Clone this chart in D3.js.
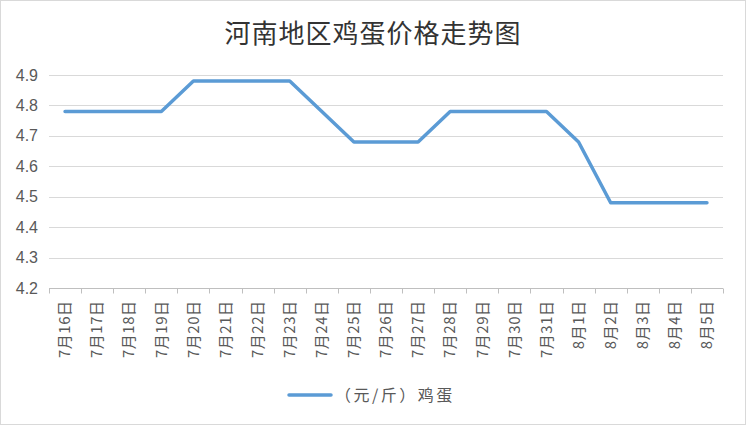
<!DOCTYPE html>
<html>
<head>
<meta charset="utf-8">
<script src="https://cdn.jsdelivr.net/npm/d3@7.9.0/dist/d3.min.js"></script>
<style>
  html, body { margin: 0; padding: 0; background: #fff; }
  svg { display: block; font-family: "Noto Sans CJK SC", "Noto Sans", sans-serif; }
</style>
</head>
<body>
<svg id="chart" width="746" height="425"></svg>
<script>
// ----- Data -----
const dates = ["7月16日", "7月17日", "7月18日", "7月19日", "7月20日", "7月21日", "7月22日",
  "7月23日", "7月24日", "7月25日", "7月26日", "7月27日", "7月28日", "7月29日",
  "7月30日", "7月31日", "8月1日", "8月2日", "8月3日", "8月4日", "8月5日"];
const prices = [4.78, 4.78, 4.78, 4.78, 4.88, 4.88, 4.88, 4.88, 4.78, 4.68, 4.68,
  4.68, 4.78, 4.78, 4.78, 4.78, 4.68, 4.48, 4.48, 4.48, 4.48];
const yTicks = [4.2, 4.3, 4.4, 4.5, 4.6, 4.7, 4.8, 4.9];
const seriesName = "（元/斤）鸡蛋";
const title = "河南地区鸡蛋价格走势图";

const W = 746, H = 425;
const margin = { top: 75, right: 23, bottom: 137, left: 49 };
const svg = d3.select("#chart");

// outer frame
svg.append("rect")
  .attr("x", 0.5).attr("y", 0.5)
  .attr("width", W - 1).attr("height", H - 1)
  .attr("fill", "#fff").attr("stroke", "#d9d9d9");

const x = d3.scaleBand()
  .domain(dates)
  .range([margin.left, W - margin.right]);

const y = d3.scaleLinear()
  .domain([4.2, 4.9])
  .range([H - margin.bottom, margin.top]);

// gridlines
svg.append("g")
  .selectAll("line")
  .data(yTicks.slice(1))
  .join("line")
  .attr("x1", margin.left).attr("x2", W - margin.right)
  .attr("y1", d => Math.round(y(d)) + 0.5).attr("y2", d => Math.round(y(d)) + 0.5)
  .attr("stroke", "#d9d9d9").attr("stroke-width", 1);

// y axis labels
svg.append("g")
  .selectAll("text")
  .data(yTicks)
  .join("text")
  .attr("x", 38)
  .attr("y", d => y(d))
  .attr("dy", "0.35em")
  .attr("text-anchor", "end")
  .attr("fill", "#595959")
  .attr("font-size", 16)
  .attr("font-family", "Liberation Sans, Arial, sans-serif")
  .text(d => d.toFixed(1));

// x axis
const xAxisY = Math.round(y(4.2)) + 0.5;
const xg = svg.append("g");
xg.append("line")
  .attr("x1", margin.left).attr("x2", W - margin.right)
  .attr("y1", xAxisY).attr("y2", xAxisY)
  .attr("stroke", "#bfbfbf");
xg.selectAll("line.tick")
  .data(dates.map(d => x(d)).concat([W - margin.right]))
  .join("line")
  .attr("class", "tick")
  .attr("x1", d => Math.round(d) + 0.5).attr("x2", d => Math.round(d) + 0.5)
  .attr("y1", xAxisY).attr("y2", xAxisY + 5)
  .attr("stroke", "#bfbfbf");

xg.selectAll("text")
  .data(dates)
  .join("text")
  .attr("transform", d => `translate(${x(d) + x.bandwidth() / 2},${xAxisY + 12}) rotate(-90)`)
  .attr("text-anchor", "end")
  .attr("dy", "0.35em")
  .attr("fill", "#595959")
  .attr("font-size", 15)
  .attr("letter-spacing", 0.5)
  .text(d => d);

// line
const line = d3.line()
  .x((d, i) => x(dates[i]) + x.bandwidth() / 2)
  .y(d => y(d));

svg.append("path")
  .datum(prices)
  .attr("d", line)
  .attr("fill", "none")
  .attr("stroke", "#5b9bd5")
  .attr("stroke-width", 3.5)
  .attr("stroke-linejoin", "round")
  .attr("stroke-linecap", "round");

// title
svg.append("text")
  .attr("x", W / 2).attr("y", 43)
  .attr("text-anchor", "middle")
  .attr("fill", "#333333")
  .attr("font-size", 26)
  .attr("letter-spacing", 1)
  .text(title);

// legend
const lg = svg.append("g").attr("transform", "translate(289,395)");
lg.append("line")
  .attr("x1", 0).attr("x2", 42)
  .attr("y1", 0).attr("y2", 0)
  .attr("stroke", "#5b9bd5").attr("stroke-width", 3.5)
  .attr("stroke-linecap", "round");
lg.append("text")
  .attr("x", 46).attr("y", 0)
  .attr("dy", "0.35em")
  .attr("fill", "#595959")
  .attr("font-size", 16)
  .attr("letter-spacing", 2.5)
  .text(seriesName);
</script>
</body>
</html>
